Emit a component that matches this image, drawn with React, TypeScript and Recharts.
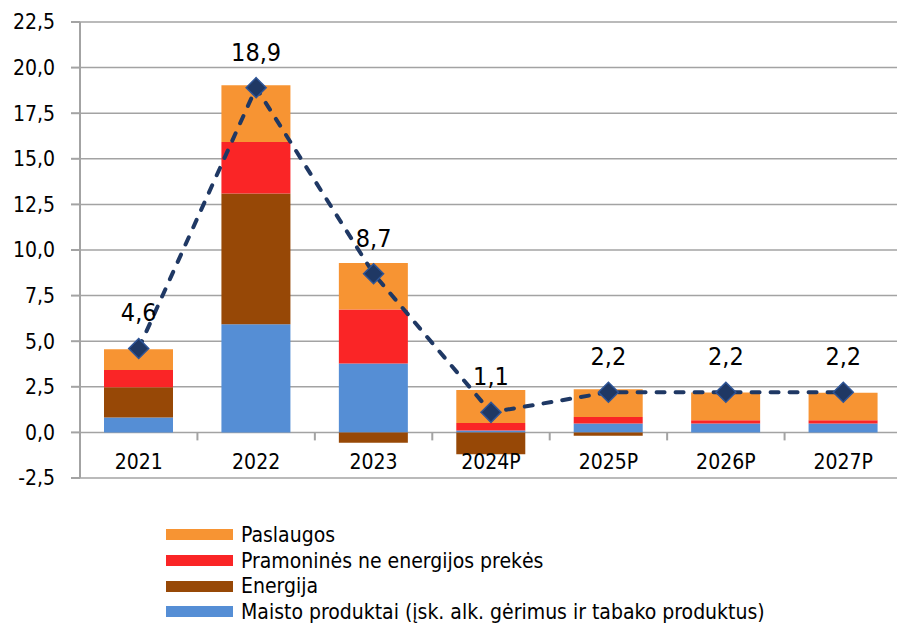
import React from 'react';
import {
  ComposedChart,
  Bar,
  Line,
  XAxis,
  YAxis,
  CartesianGrid,
  LabelList,
} from 'recharts';

// ---- Data ----
const categories = ['2021', '2022', '2023', '2024P', '2025P', '2026P', '2027P'];
const food = [0.82, 5.93, 3.78, 0.1, 0.49, 0.49, 0.49];
const energy = [1.66, 7.17, -0.57, -1.2, -0.19, 0, 0];
const industrial = [0.94, 2.82, 2.96, 0.42, 0.35, 0.18, 0.18];
const services = [1.14, 3.11, 2.55, 1.8, 1.52, 1.52, 1.5];
const total = [4.6, 18.9, 8.7, 1.1, 2.2, 2.2, 2.2];
const yTicks = [-2.5, 0, 2.5, 5, 7.5, 10, 12.5, 15, 17.5, 20, 22.5];

const seriesNames = {
  services: 'Paslaugos',
  industrial: 'Pramoninės ne energijos prekės',
  energy: 'Energija',
  food: 'Maisto produktai (įsk. alk. gėrimus ir tabako produktus)',
};

const COLORS = {
  services: '#F79433',
  industrial: '#FA2526',
  energy: '#974806',
  food: '#558ED5',
  line: '#1F3864',
  marker: '#2F5597',
  grid: '#A3A3A3',
};

const data = categories.map((c, i) => ({
  cat: c,
  food: food[i],
  energy: energy[i],
  industrial: industrial[i],
  services: services[i],
  total: total[i],
}));

// ---- Layout ----
const CHART_W = 910;
const CHART_H = 623;
const MARGIN = { top: 22, right: 8, bottom: 115, left: 0 };
const Y_AXIS_W = 80;
const X_AXIS_H = 30;
const PLOT_TOP = MARGIN.top;
const PLOT_H = CHART_H - MARGIN.top - MARGIN.bottom - X_AXIS_H;
const PLOT_W = CHART_W - MARGIN.left - MARGIN.right - Y_AXIS_W;
const Y_MIN = -2.5;
const Y_MAX = 22.5;
const ZERO_Y = PLOT_TOP + ((Y_MAX - 0) / (Y_MAX - Y_MIN)) * PLOT_H;
const BAND = PLOT_W / categories.length;

const FONT = "'DejaVu Sans Condensed', 'DejaVu Sans', sans-serif";

const fmt = (v: number) => v.toFixed(1).replace('.', ',');

const XTick = (props: any) => {
  const { x, payload, index } = props;
  return (
    <g>
      <text
        x={x}
        y={ZERO_Y + 37}
        textAnchor="middle"
        fontFamily={FONT}
        fontStretch="condensed"
        fontSize={21}
        fill="#000"
      >
        {payload.value}
      </text>
      {index < categories.length - 1 && (
        <line
          x1={x + BAND / 2}
          x2={x + BAND / 2}
          y1={ZERO_Y}
          y2={ZERO_Y + 8}
          stroke={COLORS.grid}
          strokeWidth={2}
        />
      )}
    </g>
  );
};

const Diamond = (props: any) => {
  const { cx, cy } = props;
  if (cx == null || cy == null) return null;
  const r = 10;
  return (
    <path
      d={`M${cx},${cy - r} L${cx + r},${cy} L${cx},${cy + r} L${cx - r},${cy} Z`}
      fill={COLORS.line}
      stroke={COLORS.marker}
      strokeWidth={1.5}
    />
  );
};

const TotalLabel = (props: any) => {
  const { x, y, value } = props;
  return (
    <text
      x={x}
      y={y - 27}
      textAnchor="middle"
      fontFamily={FONT}
      fontStretch="condensed"
      fontSize={25}
      fill="#000"
    >
      {fmt(value)}
    </text>
  );
};

const legendOrder: Array<keyof typeof seriesNames> = ['services', 'industrial', 'energy', 'food'];

const LegendBox = () => (
  <div
    style={{
      position: 'absolute',
      left: 166,
      top: 522,
      fontFamily: FONT,
      fontStretch: 'condensed',
      fontSize: 21,
      color: '#000',
    }}
  >
    {legendOrder.map((k) => (
      <div key={k} style={{ display: 'flex', alignItems: 'center', height: 25.7, whiteSpace: 'nowrap' }}>
        <span
          style={{
            display: 'inline-block',
            width: 67,
            height: 11,
            background: COLORS[k],
            marginRight: 8,
          }}
        />
        <span>{seriesNames[k]}</span>
      </div>
    ))}
  </div>
);

export default function App() {
  return (
    <div
      style={{
        position: 'fixed',
        left: 0,
        top: 0,
        width: 897,
        height: 623,
        overflow: 'hidden',
        background: '#fff',
      }}
    >
      <ComposedChart
        width={CHART_W}
        height={CHART_H}
        data={data}
        margin={MARGIN}
        stackOffset="sign"
      >
        <CartesianGrid vertical={false} stroke={COLORS.grid} strokeWidth={1.5} />
        <XAxis
          dataKey="cat"
          height={X_AXIS_H}
          axisLine={false}
          tickLine={false}
          tick={<XTick />}
          interval={0}
        />
        <YAxis
          width={Y_AXIS_W}
          domain={[Y_MIN, Y_MAX]}
          ticks={yTicks}
          tickFormatter={fmt}
          axisLine={{ stroke: COLORS.grid, strokeWidth: 2 }}
          tickLine={{ stroke: COLORS.grid, strokeWidth: 2 }}
          tickSize={9}
          tickMargin={16}
          tick={{ fontFamily: FONT, fontSize: 21, fill: '#000', fontStretch: 'condensed' } as any}
          interval={0}
          allowDataOverflow
        />
        <Bar dataKey="food" stackId="a" fill={COLORS.food} barSize={69} isAnimationActive={false} name={seriesNames.food} />
        <Bar dataKey="energy" stackId="a" fill={COLORS.energy} barSize={69} isAnimationActive={false} name={seriesNames.energy} />
        <Bar dataKey="industrial" stackId="a" fill={COLORS.industrial} barSize={69} isAnimationActive={false} name={seriesNames.industrial} />
        <Bar dataKey="services" stackId="a" fill={COLORS.services} barSize={69} isAnimationActive={false} name={seriesNames.services} />
        <Line
          dataKey="total"
          stroke={COLORS.line}
          strokeWidth={4}
          strokeDasharray="8 11"
          strokeLinecap="round"
          dot={<Diamond />}
          activeDot={false}
          isAnimationActive={false}
          legendType="none"
        >
          <LabelList dataKey="total" content={<TotalLabel />} />
        </Line>
      </ComposedChart>
      <LegendBox />
    </div>
  );
}
